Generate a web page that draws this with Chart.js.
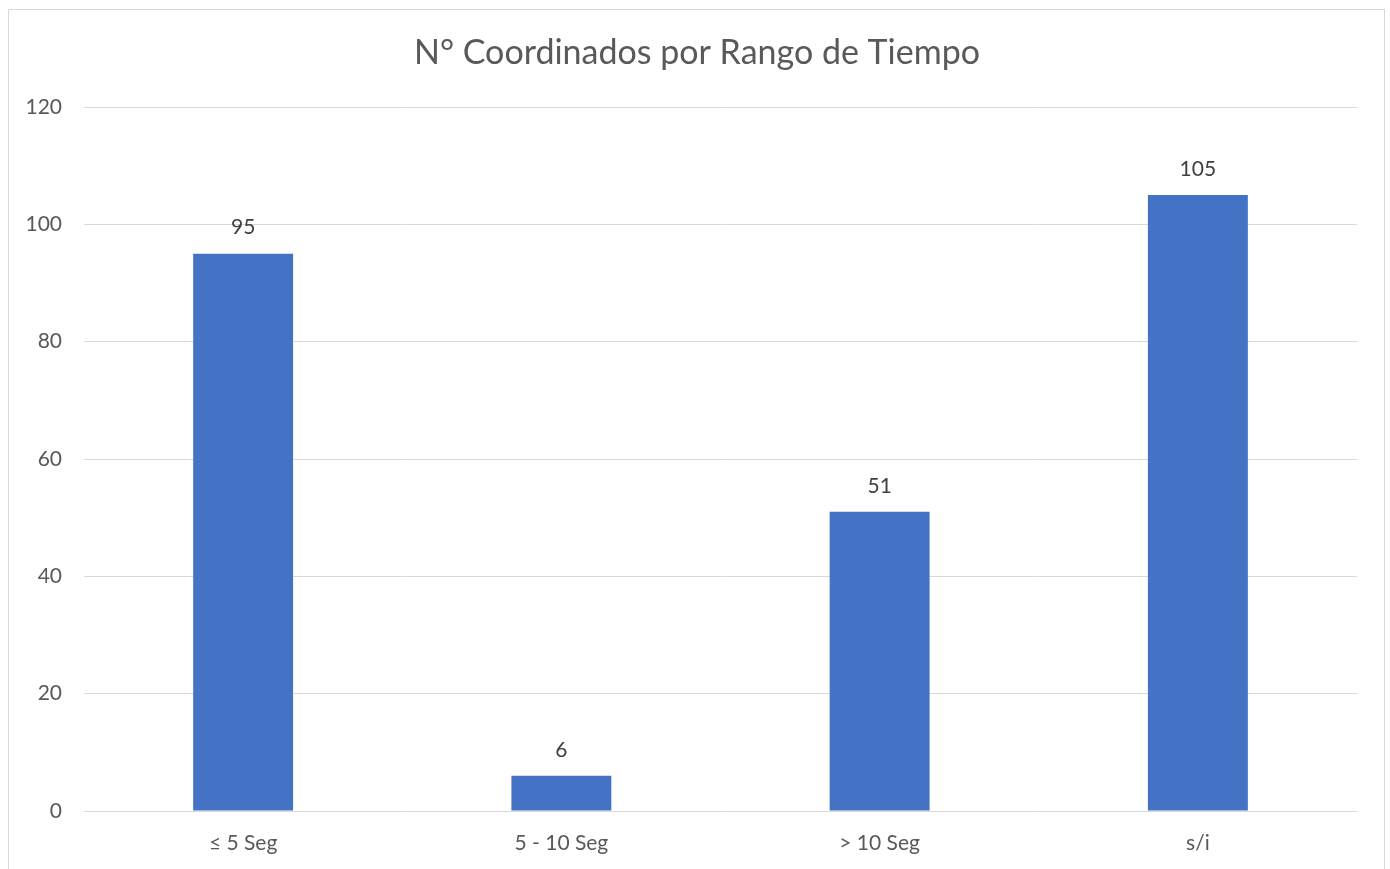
<!DOCTYPE html>
<html>
<head>
<meta charset="utf-8">
<script src="https://cdn.jsdelivr.net/npm/chart.js@4/dist/chart.umd.min.js"></script>
<style>
  html, body { margin: 0; padding: 0; background: #fff; overflow: hidden; }
  #frame {
    position: absolute; left: 8px; top: 9px; width: 1377px; height: 900px;
    border: 1px solid #d9d9d9; box-sizing: border-box;
  }
  #wrap { position: absolute; left: 0; top: 0; width: 1390px; height: 869px; }
</style>
</head>
<body>
<div id="frame"></div>
<div id="wrap"><canvas id="chart"></canvas></div>
<script>
const categories = ['≤ 5 Seg', '5 - 10 Seg', '> 10 Seg', 's/i'];
const values = [95, 6, 51, 105];
const yTicks = [0, 20, 40, 60, 80, 100, 120];
const chartTitle = 'N° Coordinados por Rango de Tiempo';

const FONT = "Lato, 'Open Sans', sans-serif";

// title centred on the framed box, not on the plot
const frameTitle = {
  id: 'frameTitle',
  afterDraw(chart) {
    const ctx = chart.ctx;
    ctx.save();
    ctx.font = '34px ' + FONT;
    ctx.fillStyle = '#595959';
    ctx.textAlign = 'center';
    ctx.textBaseline = 'middle';
    ctx.fillText(chartTitle, 697, 53);
    ctx.restore();
  }
};

// value labels above each bar
const barLabels = {
  id: 'barLabels',
  afterDatasetsDraw(chart) {
    const ctx = chart.ctx;
    const meta = chart.getDatasetMeta(0);
    ctx.save();
    ctx.font = '21px ' + FONT;
    ctx.fillStyle = '#404040';
    ctx.textAlign = 'center';
    ctx.textBaseline = 'middle';
    meta.data.forEach((bar, i) => {
      ctx.fillText(String(values[i]), bar.x, bar.y - 26);
    });
    ctx.restore();
  }
};

new Chart(document.getElementById('chart'), {
  type: 'bar',
  data: {
    labels: categories,
    datasets: [{
      data: values,
      backgroundColor: '#4472C4',
      borderWidth: 0,
      barPercentage: 0.314,
      categoryPercentage: 1
    }]
  },
  options: {
    responsive: true,
    maintainAspectRatio: false,
    animation: false,
    layout: { padding: { left: 0, right: 33, top: 107, bottom: 0 } },
    plugins: {
      legend: { display: false },
      tooltip: { enabled: false },
      title: { display: false }
    },
    scales: {
      x: {
        grid: { display: false },
        border: { display: false },
        ticks: {
          color: '#595959',
          font: { family: FONT, size: 21 },
          padding: 12
        },
        afterFit(scale) { scale.height = 58; }
      },
      y: {
        min: 0,
        max: 120,
        afterBuildTicks(scale) { scale.ticks = yTicks.map(v => ({ value: v })); },
        grid: { color: '#d9d9d9', lineWidth: 1, drawTicks: false },
        border: { display: false },
        ticks: {
          color: '#595959',
          font: { family: FONT, size: 21 },
          padding: 22
        },
        afterFit(scale) { scale.width = 84; }
      }
    }
  },
  plugins: [barLabels, frameTitle]
});
</script>
</body>
</html>
